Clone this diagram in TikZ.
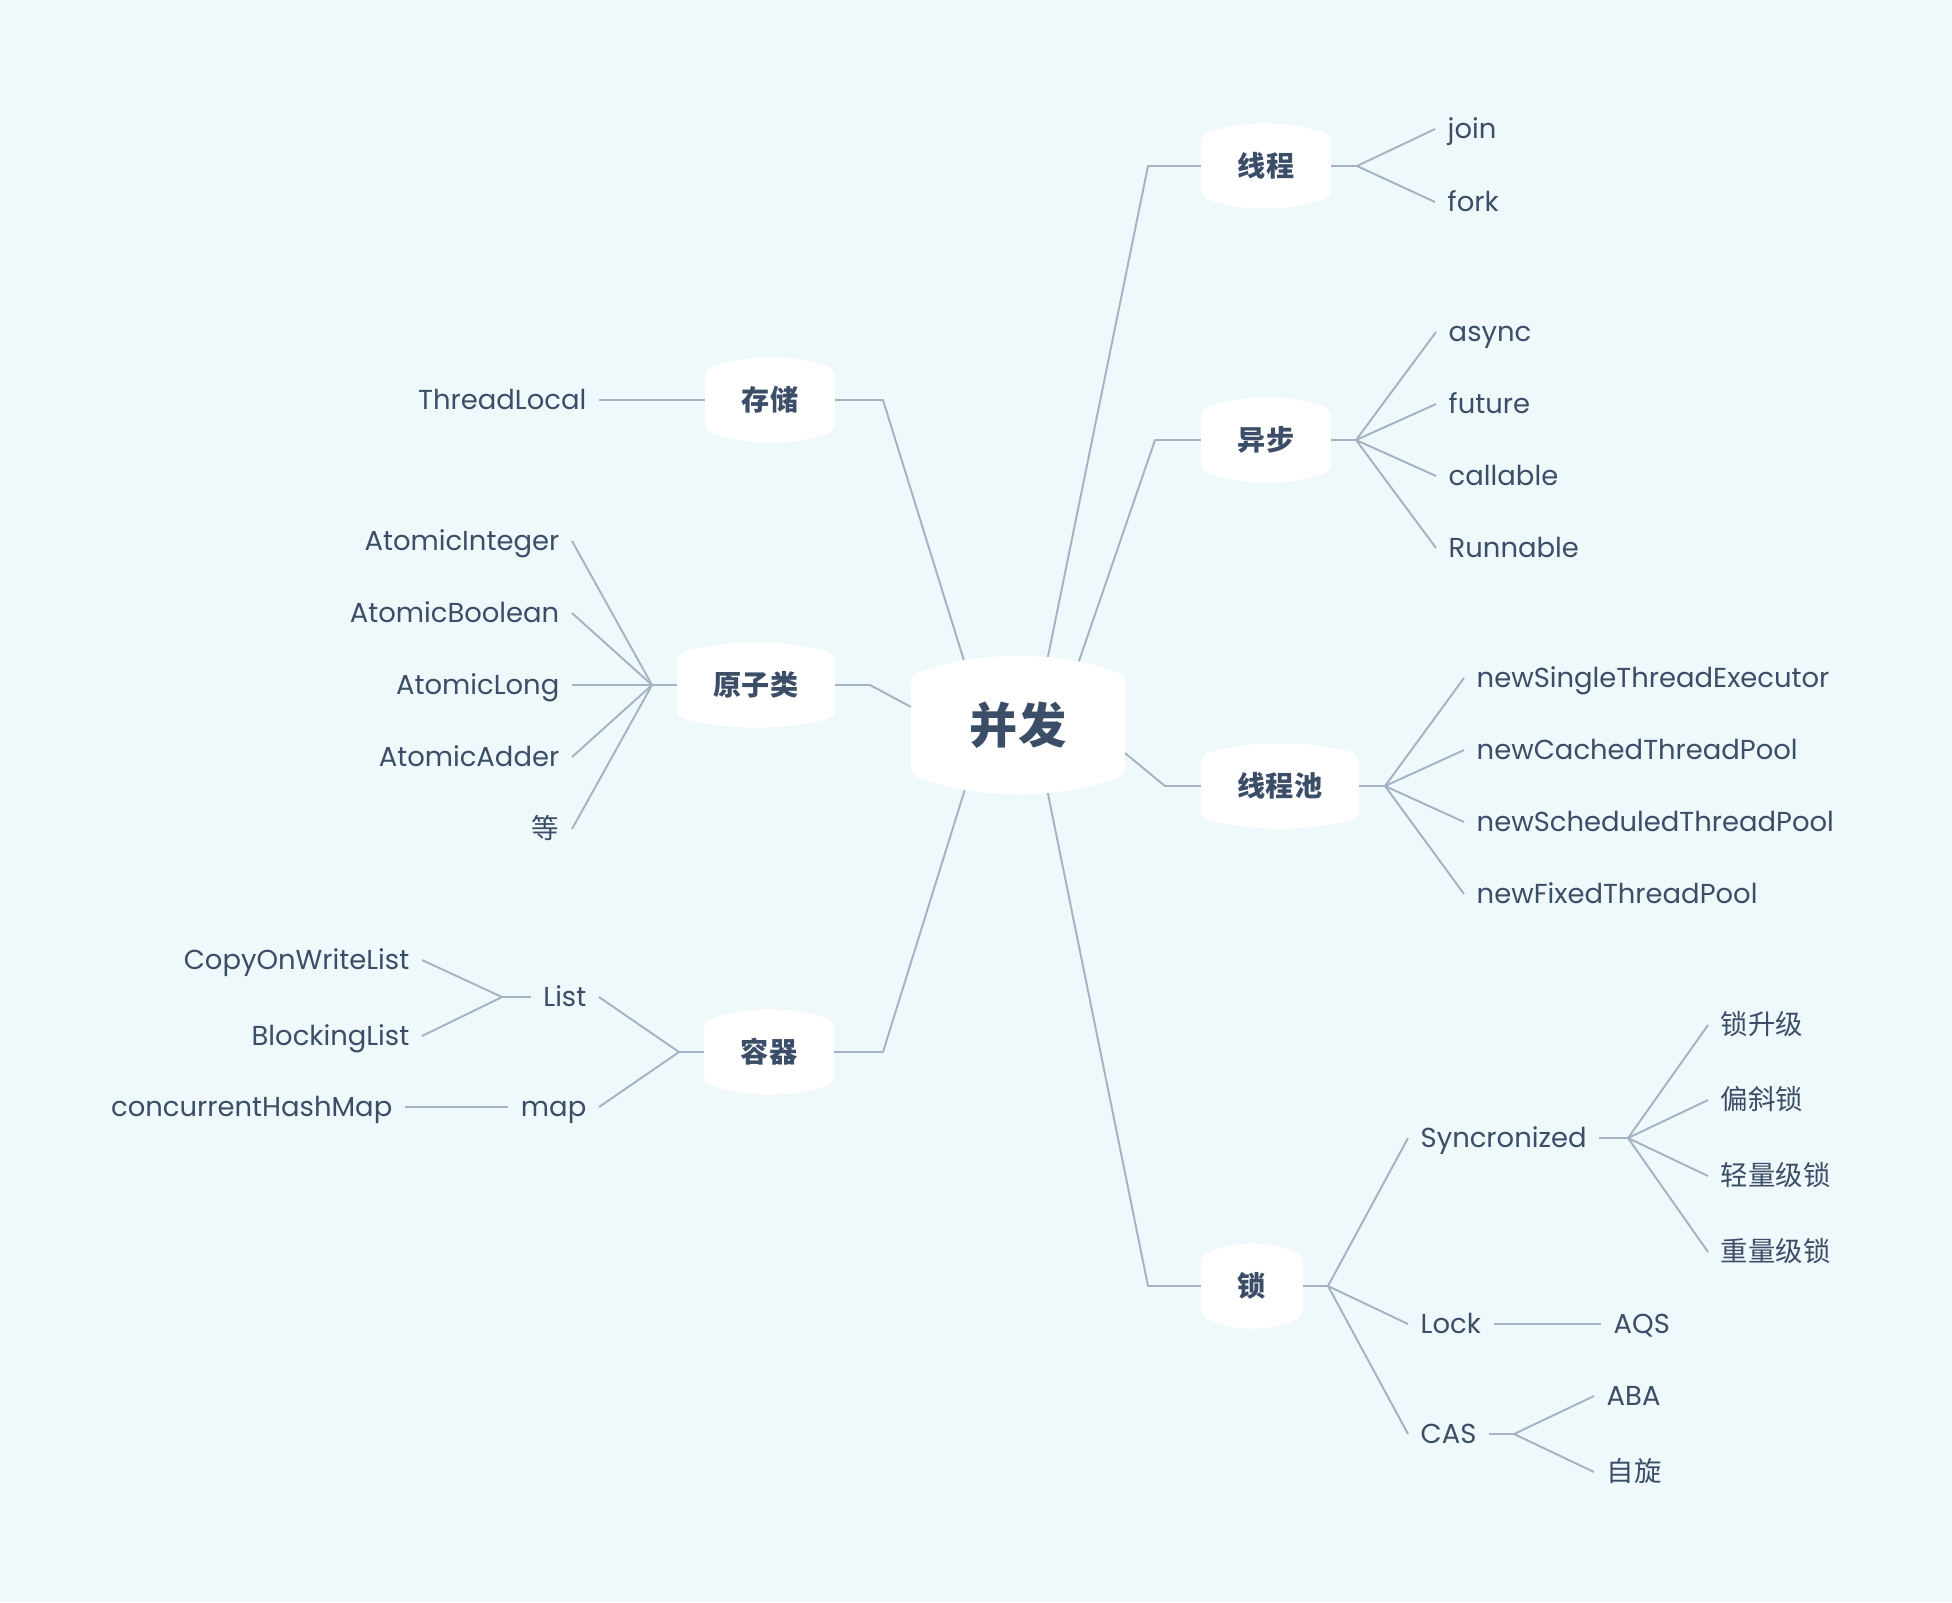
\documentclass[tikz,border=0pt]{standalone}
\usepackage{fontspec}
\setmainfont{Poppins}
\newfontfamily\cjkfont{Noto Sans CJK SC}
\usetikzlibrary{calc}

\definecolor{pagebg}{RGB}{239,248,251}
\definecolor{linkcol}{RGB}{164,179,196}
\definecolor{inkcol}{RGB}{60,78,103}

\pgfdeclarelayer{bg}
\pgfdeclarelayer{edges}
\pgfdeclarelayer{fills}
\pgfsetlayers{bg,edges,fills,main}

% white barrel-shaped plate behind a topic node:
% #1 node name, #2 bulge of top/bottom, #3 corner size
\newcommand\barrelfill[3]{%
  \fill[white] let \p1=(#1.north west), \p2=(#1.south east),
      \n1={#2}, \n2={#3}, \n3={4*#2/3},
      \n4={0.3*(\x2-\x1-2*#3)}, \n5={0.6*#3*\n3/\n4} in
    ({\x1},{\y2+\n1+\n2}) -- ({\x1},{\y1-\n1-\n2})
    .. controls ({\x1},{\y1-\n1-0.4*\n2}) and ({\x1+0.4*\n2},{\y1-\n1-\n5}) .. ({\x1+\n2},{\y1-\n1})
    .. controls ({\x1+\n2+\n4},{\y1-\n1+\n3}) and ({\x2-\n2-\n4},{\y1-\n1+\n3}) .. ({\x2-\n2},{\y1-\n1})
    .. controls ({\x2-0.4*\n2},{\y1-\n1-\n5}) and ({\x2},{\y1-\n1-0.4*\n2}) .. ({\x2},{\y1-\n1-\n2})
    -- ({\x2},{\y2+\n1+\n2})
    .. controls ({\x2},{\y2+\n1+0.4*\n2}) and ({\x2-0.4*\n2},{\y2+\n1+\n5}) .. ({\x2-\n2},{\y2+\n1})
    .. controls ({\x2-\n2-\n4},{\y2+\n1-\n3}) and ({\x1+\n2+\n4},{\y2+\n1-\n3}) .. ({\x1+\n2},{\y2+\n1})
    .. controls ({\x1+0.4*\n2},{\y2+\n1+\n5}) and ({\x1},{\y2+\n1+0.4*\n2}) .. ({\x1},{\y2+\n1+\n2})
    -- cycle;}

\tikzset{
  topic/.style={rectangle, inner xsep=0.36cm, inner ysep=0pt, minimum height=0.84cm,
    text=inkcol, font=\cjkfont\bfseries\fontsize{8pt}{8pt}\selectfont},
  root/.style={topic, inner xsep=0.58cm, minimum height=1.37cm,
    font=\cjkfont\bfseries\fontsize{13.7pt}{14pt}\selectfont},
  leaf/.style={inner xsep=0.12cm, inner ysep=0pt, text height=5.3pt, text depth=0pt,
    text=inkcol, font=\fontsize{7.8pt}{9pt}\selectfont},
  cjkleaf/.style={leaf, font=\cjkfont\fontsize{7.8pt}{9pt}\selectfont},
  link/.style={draw=linkcol, line width=0.55pt, line join=round}
}

\begin{document}
\begin{tikzpicture}[x=0.01cm, y=-0.01cm]
\begin{pgfonlayer}{bg}
  \fill[pagebg] (0,0) rectangle (1952,1602);
\end{pgfonlayer}
\useasboundingbox (0,0) rectangle (1952,1602);

% topics
\node[root]  (C)  at (1018,725) {并发};
\node[topic] (T1) at (1266,166) {线程};
\node[topic] (T2) at (1266,440) {异步};
\node[topic] (T3) at (1280,786) {线程池};
\node[topic] (T4) at (1252,1286) {锁};
\node[topic] (L1) at (770,400) {存储};
\node[topic] (L2) at (756,685) {原子类};
\node[topic] (L3) at (769,1052) {容器};

% bends and forks
\coordinate (B1) at (1148,166);
\coordinate (B2) at (1155,440);
\coordinate (B3) at (1165,786);
\coordinate (B4) at (1148,1286);
\coordinate (B5) at (883,400);
\coordinate (B6) at (870,685);
\coordinate (B7) at (883,1052);
\coordinate (J1) at (1357,166);
\coordinate (J2) at (1356,440);
\coordinate (J3) at (1385,786);
\coordinate (J4) at (1328,1286);
\coordinate (J5) at (1628,1138);
\coordinate (J6) at (1514,1434);
\coordinate (J7) at (652,685);
\coordinate (J8) at (679,1052);
\coordinate (J9) at (502,997);

% right-hand leaves
\node[leaf, anchor=west] (join) at (1435,129) {join};
\node[leaf, anchor=west] (fork) at (1435,202) {fork};
\node[leaf, anchor=west] (async) at (1436,332) {async};
\node[leaf, anchor=west] (future) at (1436,404) {future};
\node[leaf, anchor=west] (callable) at (1436,476) {callable};
\node[leaf, anchor=west] (runnable) at (1436,548) {Runnable};
\node[leaf, anchor=west] (pool1) at (1464,678) {newSingleThreadExecutor};
\node[leaf, anchor=west] (pool2) at (1464,750) {newCachedThreadPool};
\node[leaf, anchor=west] (pool3) at (1464,822) {newScheduledThreadPool};
\node[leaf, anchor=west] (pool4) at (1464,894) {newFixedThreadPool};
\node[leaf, anchor=west] (sync) at (1408,1138) {Syncronized};
\node[leaf, anchor=west] (lock) at (1408,1324) {Lock};
\node[leaf, anchor=west] (cas) at (1408,1434) {CAS};
\node[cjkleaf, anchor=west] (upgrade) at (1708,1025) {锁升级};
\node[cjkleaf, anchor=west] (biased) at (1708,1100) {偏斜锁};
\node[cjkleaf, anchor=west] (light) at (1708,1176) {轻量级锁};
\node[cjkleaf, anchor=west] (heavy) at (1708,1252) {重量级锁};
\node[leaf, anchor=west] (aqs) at (1601,1324) {AQS};
\node[leaf, anchor=west] (aba) at (1594,1396) {ABA};
\node[cjkleaf, anchor=west] (spin) at (1594,1472) {自旋};

% left-hand leaves
\node[leaf, anchor=east] (tl) at (599,400) {ThreadLocal};
\node[leaf, anchor=east] (ai) at (572,541) {AtomicInteger};
\node[leaf, anchor=east] (ab) at (572,613) {AtomicBoolean};
\node[leaf, anchor=east] (al) at (572,685) {AtomicLong};
\node[leaf, anchor=east] (aa) at (572,757) {AtomicAdder};
\node[cjkleaf, anchor=east] (etc) at (572,829) {等};
\node[leaf, anchor=east] (list) at (599,997) {List};
\node[leaf, anchor=east] (map) at (599,1107) {map};
\node[leaf, anchor=east] (cow) at (422,960) {CopyOnWriteList};
\node[leaf, anchor=east] (bl) at (422,1036) {BlockingList};
\node[leaf, anchor=east] (chm) at (405,1107) {concurrentHashMap};

% plates
\begin{pgfonlayer}{fills}
  \barrelfill{C}{4.27pt}{3.3pt}
  \foreach \t in {T1,T2,T3,T4,L1,L2,L3} {\barrelfill{\t}{2.42pt}{2.7pt}}
\end{pgfonlayer}

% connectors
\begin{pgfonlayer}{edges}
  \draw[link] ($(C)+(16,0)$) -- (B1) -- (T1.west);
  \draw[link] ($(C)+(39,0)$) -- (B2) -- (T2.west);
  \draw[link] ($(C.east)+(0,28)$) -- (B3) -- (T3.west);
  \draw[link] ($(C)+(16,0)$) -- (B4) -- (T4.west);
  \draw[link] ($(C)+(-34,0)$) -- (B5) -- (L1.east);
  \draw[link] ($(C.west)+(0,-18)$) -- (B6) -- (L2.east);
  \draw[link] ($(C)+(-33,0)$) -- (B7) -- (L3.east);

  \draw[link] (T1.east) -- (J1);
  \foreach \n in {join,fork} \draw[link] (J1) -- (\n.west);
  \draw[link] (T2.east) -- (J2);
  \foreach \n in {async,future,callable,runnable} \draw[link] (J2) -- (\n.west);
  \draw[link] (T3.east) -- (J3);
  \foreach \n in {pool1,pool2,pool3,pool4} \draw[link] (J3) -- (\n.west);
  \draw[link] (T4.east) -- (J4);
  \foreach \n in {sync,lock,cas} \draw[link] (J4) -- (\n.west);
  \draw[link] (sync.east) -- (J5);
  \foreach \n in {upgrade,biased,light,heavy} \draw[link] (J5) -- (\n.west);
  \draw[link] (lock.east) -- (aqs.west);
  \draw[link] (cas.east) -- (J6);
  \foreach \n in {aba,spin} \draw[link] (J6) -- (\n.west);

  \draw[link] (L1.west) -- (tl.east);
  \draw[link] (L2.west) -- (J7);
  \foreach \n in {ai,ab,al,aa,etc} \draw[link] (J7) -- (\n.east);
  \draw[link] (L3.west) -- (J8);
  \foreach \n in {list,map} \draw[link] (J8) -- (\n.east);
  \draw[link] (list.west) -- (J9);
  \foreach \n in {cow,bl} \draw[link] (J9) -- (\n.east);
  \draw[link] (map.west) -- (chm.east);
\end{pgfonlayer}
\end{tikzpicture}
\end{document}
